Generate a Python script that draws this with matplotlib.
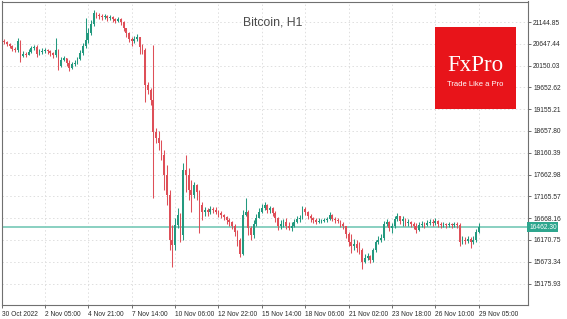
import numpy as np
import matplotlib
matplotlib.use('Agg')
import matplotlib.pyplot as plt
from matplotlib.patches import Rectangle
import matplotlib.transforms as mtransforms

# Bitcoin H1 (drawn as 4-bar candles), 30 Oct - 29 Nov 2022
first_open = 20711
closes = [20689, 20643, 20597, 20529, 20506, 20711, 20369, 20415, 20392, 20460,
          20552, 20574, 20415, 20460, 20483, 20506, 20483, 20438, 20392, 20506,
          20141, 20278, 20323, 20209, 20095, 20187, 20209, 20301, 20438, 20597,
          20734, 20894, 21099, 21350, 21305, 21282, 21259, 21282, 21236, 21259,
          21213, 21168, 21213, 21145, 21008, 20894, 20757, 20711, 20757, 20803,
          20574, 20506, 19707, 19593, 19365, 18635, 18498, 18384, 18110, 17654,
          17197, 16170, 16056, 16512, 16741, 16284, 17768, 17654, 17311, 17197,
          17425, 17266, 16969, 16809, 16855, 16809, 16878, 16855, 16809, 16786,
          16741, 16695, 16627, 16581, 16490, 16353, 16170, 15851, 16741, 16809,
          16444, 16284, 16535, 16672, 16809, 16900, 16969, 16855, 16900, 16786,
          16672, 16490, 16535, 16581, 16490, 16444, 16490, 16581, 16649, 16672,
          16878, 16809, 16718, 16672, 16627, 16581, 16604, 16604, 16627, 16649,
          16741, 16649, 16627, 16604, 16535, 16490, 16307, 16125, 16033, 16079,
          15988, 15942, 15668, 15759, 15805, 15714, 15942, 16125, 16170, 16216,
          16535, 16581, 16444, 16490, 16649, 16718, 16604, 16649, 16558, 16581,
          16535, 16490, 16398, 16512, 16535, 16512, 16558, 16581, 16558, 16604,
          16535, 16512, 16535, 16512, 16535, 16512, 16535, 16512, 16125, 16170,
          16147, 16193, 16125, 16170, 16353, 16462.30]
highs = [20757, 20711, 20666, 20620, 20574, 20780, 20734, 20483, 20460, 20529,
         20597, 20620, 20620, 20529, 20552, 20552, 20529, 20506, 20460, 20780,
         20529, 20346, 20369, 20323, 20278, 20232, 20278, 20346, 20506, 20666,
         21236, 21008, 21191, 21419, 21373, 21350, 21327, 21327, 21305, 21305,
         21282, 21236, 21259, 21236, 21168, 21008, 20917, 20803, 20825, 20871,
         20803, 20643, 20552, 19776, 19639, 20620, 18726, 18658, 18452, 18224,
         17882, 17311, 16512, 16672, 16900, 16786, 17927, 18110, 17813, 17539,
         17494, 17448, 17311, 17037, 16923, 16900, 16946, 16923, 16923, 16855,
         16832, 16763, 16718, 16672, 16604, 16535, 16398, 16216, 16855, 17129,
         16855, 16490, 16627, 16763, 16900, 16992, 17037, 16992, 16946, 16923,
         16832, 16695, 16627, 16649, 16672, 16581, 16581, 16649, 16718, 16741,
         16946, 16923, 16832, 16763, 16695, 16672, 16672, 16649, 16672, 16695,
         16809, 16763, 16695, 16672, 16627, 16581, 16490, 16353, 16307, 16193,
         16170, 16125, 15988, 15851, 15874, 15828, 15988, 16170, 16262, 16307,
         16604, 16649, 16604, 16558, 16718, 16786, 16718, 16718, 16672, 16649,
         16604, 16581, 16558, 16581, 16604, 16581, 16627, 16649, 16649, 16672,
         16627, 16581, 16581, 16558, 16581, 16558, 16581, 16581, 16558, 16262,
         16239, 16262, 16239, 16262, 16421, 16558]
lows = [20643, 20597, 20552, 20483, 20460, 20460, 20232, 20346, 20346, 20392,
        20438, 20506, 20346, 20392, 20415, 20438, 20415, 20369, 20323, 20346,
        20050, 20118, 20255, 20141, 20027, 20072, 20141, 20187, 20278, 20392,
        20552, 20666, 20848, 21054, 21236, 21213, 21191, 21213, 21168, 21191,
        21145, 21122, 21145, 21076, 20940, 20803, 20689, 20597, 20666, 20711,
        20415, 20415, 19319, 19502, 19251, 17129, 18384, 18224, 17996, 17311,
        16969, 15942, 15554, 15942, 16444, 16125, 16170, 17266, 17083, 16809,
        17129, 17083, 16330, 16627, 16718, 16718, 16763, 16786, 16763, 16695,
        16672, 16627, 16535, 16490, 16421, 16262, 16033, 15782, 15828, 16718,
        16284, 16170, 16216, 16490, 16672, 16786, 16855, 16786, 16786, 16718,
        16581, 16398, 16421, 16467, 16421, 16398, 16376, 16467, 16558, 16581,
        16649, 16741, 16649, 16581, 16558, 16535, 16558, 16558, 16581, 16581,
        16627, 16604, 16558, 16558, 16467, 16421, 16216, 16033, 15874, 15942,
        15896, 15851, 15508, 15645, 15714, 15645, 15668, 15896, 16079, 16125,
        16170, 16490, 16376, 16330, 16444, 16604, 16535, 16490, 16490, 16490,
        16467, 16421, 16330, 16376, 16467, 16444, 16490, 16512, 16490, 16512,
        16467, 16444, 16467, 16444, 16467, 16444, 16467, 16444, 16033, 16079,
        16079, 16102, 15988, 16079, 16125, 16330]

last_price = 16462.30
price_ticks = [15175.93, 15673.34, 16170.75, 16668.16, 17165.57, 17662.98, 18160.39,
               18657.80, 19155.21, 19652.62, 20150.03, 20647.44, 21144.85]
time_labels = ['30 Oct 2022', '2 Nov 05:00', '4 Nov 21:00', '7 Nov 14:00', '10 Nov 06:00',
               '12 Nov 22:00', '15 Nov 14:00', '18 Nov 06:00', '21 Nov 02:00',
               '23 Nov 18:00', '26 Nov 10:00', '29 Nov 05:00']

up_col = '#23997f'
dn_col = '#de4f58'
line_col = '#80cdbc'

closes = np.array(closes, dtype=float)
highs = np.array(highs, dtype=float)
lows = np.array(lows, dtype=float)
opens = np.concatenate([[first_open], closes[:-1]])
bars_per_candle = 4
t = np.arange(len(closes)) * bars_per_candle + bars_per_candle
colors = np.where(closes >= opens, up_col, dn_col)

fig = plt.figure(figsize=(5.67, 3.19), dpi=100)
ax = fig.add_axes([1.5 / 567, 14 / 319, 526 / 567, 303.5 / 319])

ax.vlines(t, lows, highs, colors=colors, linewidth=0.75, zorder=3)
body = np.maximum(np.abs(closes - opens), 15)
ax.bar(t, body, bottom=np.minimum(opens, closes), width=2.6, color=colors,
       linewidth=0, zorder=3)

ax.axhline(last_price, color=line_col, linewidth=1.3, zorder=2)

ax.set_xlim(0, 776)
ax.set_ylim(14687, 21613)

ax.set_xticks(np.arange(len(time_labels)) * 64)
ax.set_xticklabels(time_labels)
for lab in ax.get_xticklabels():
    lab.set_horizontalalignment('left')
ax.set_yticks(price_ticks)
ax.set_yticklabels(['%.2f' % v for v in price_ticks])
ax.yaxis.tick_right()

ax.tick_params(axis='both', labelsize=4.8, labelcolor='#2a2a2a', color='#555555',
               length=2.5, width=0.6, direction='out')
ax.tick_params(axis='x', pad=1.5)
ax.tick_params(axis='y', pad=1.5)
for lab in ax.get_xticklabels() + ax.get_yticklabels():
    lab.set_family('Liberation Sans')

ax.grid(True, color='#dedede', linestyle=(0, (1.5, 2.5)), linewidth=0.7, zorder=0)
ax.set_axisbelow(True)
for s in ax.spines.values():
    s.set_color('#707070')
    s.set_linewidth(0.8)

# current price box on the scale
trans = mtransforms.blended_transform_factory(ax.transAxes, ax.transData)
ax.text(1.003, last_price, '%.2f' % last_price, transform=trans, fontsize=4.8,
        family='Liberation Sans', color='white', va='center', ha='left',
        bbox=dict(boxstyle='square,pad=0.25', fc='#2ea68e', ec='none'), zorder=5,
        clip_on=False)

# title
ax.text(0.515, 0.931, 'Bitcoin, H1', transform=ax.transAxes, fontsize=8.8,
        family='Liberation Sans', color='#4a4a4a', ha='center', va='center')

# FxPro logo
ax.add_patch(Rectangle((0.8235, 0.646), 0.1545, 0.270, transform=ax.transAxes,
                       facecolor='#e8141a', edgecolor='none', zorder=6))
ax.text(0.9005, 0.790, 'FxPro', transform=ax.transAxes, fontsize=16.5,
        family='Liberation Serif', color='white', ha='center', va='center', zorder=7)
ax.text(0.9005, 0.727, 'Trade Like a Pro', transform=ax.transAxes, fontsize=5.5,
        family='Liberation Sans', color='white', ha='center', va='center', zorder=7)

fig.savefig('out.png', dpi=100)
